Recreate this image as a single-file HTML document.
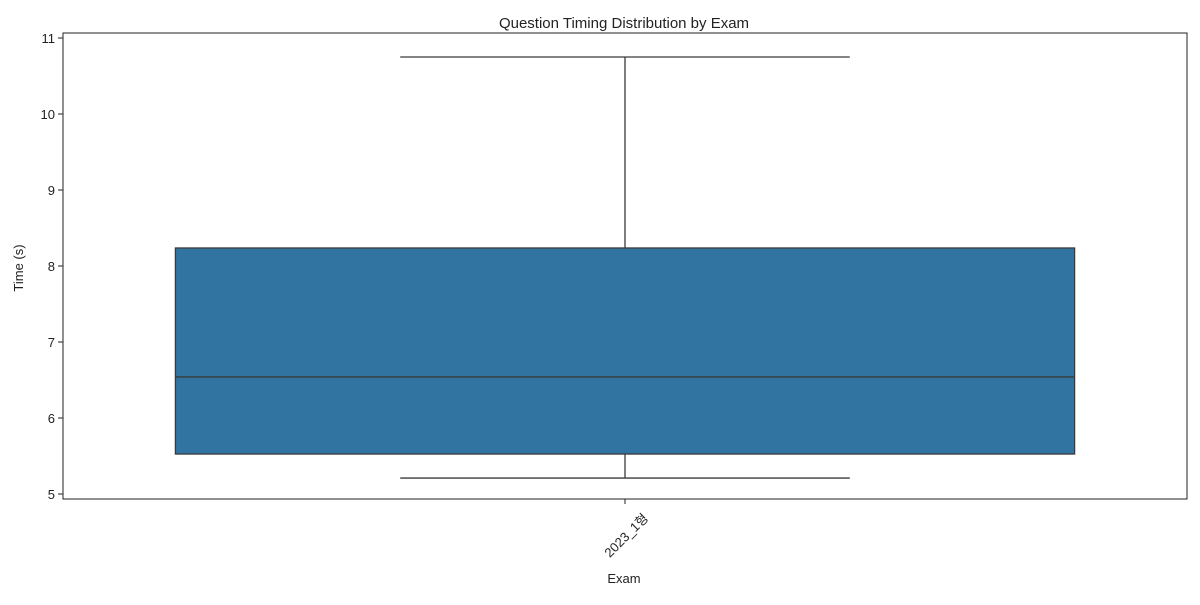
<!DOCTYPE html>
<html><head><meta charset="utf-8"><style>body{margin:0;background:#fff}svg{font-family:"Liberation Sans","Noto Sans CJK KR",sans-serif}</style></head>
<body>
<svg id="c" width="1200" height="600" viewBox="0 0 1200 600">
<text x="624" y="28" text-anchor="middle" font-size="15" fill="#222">Question Timing Distribution by Exam</text>
<g id="plot"></g>
<text x="624" y="583" text-anchor="middle" font-size="13" fill="#222">Exam</text>
<text transform="translate(23,268) rotate(-90)" text-anchor="middle" font-size="13" fill="#222">Time (s)</text>
</svg>
<script>
const categories=["2023_1형"];
const whiskerLow=[5.21];
const q1=[5.526];
const median=[6.54];
const q3=[8.237];
const whiskerHigh=[10.75];
const yTicks=[5,6,7,8,9,10,11];
const L=63,R=1187,T=33,B=499;
const y=v=>38+(11-v)*76;
const bw=(R-L)/categories.length;
const xc=i=>L+bw*(i+0.5);
const NS="http://www.w3.org/2000/svg";
const g=document.getElementById('plot');
function mk(t,a){const e=document.createElementNS(NS,t);for(const k in a)e.setAttribute(k,a[k]);g.appendChild(e);return e;}
yTicks.forEach(v=>{
 const l=mk('line',{x1:L-5,x2:L,y1:y(v),y2:y(v),stroke:'#222'});
 
 
 const t=mk('text',{x:L-8,y:y(v)+5,'text-anchor':'end','font-size':13,fill:'#222'});
 t.textContent=v;
 
 
});
categories.forEach((c,i)=>{
 const x=xc(i),hw=bw*0.4,cw=bw*0.2;
 const s='#3a3a3a';
 let e=mk('line',{x1:x,x2:x,y1:y(whiskerHigh[i]),y2:y(q3[i]),stroke:s,'stroke-width':1.3});
 
 e=mk('line',{x1:x,x2:x,y1:y(q1[i]),y2:y(whiskerLow[i]),stroke:s,'stroke-width':1.3});
 
 e=mk('line',{x1:x-cw,x2:x+cw,y1:y(whiskerHigh[i]),y2:y(whiskerHigh[i]),stroke:s,'stroke-width':1.3});
 
 e=mk('line',{x1:x-cw,x2:x+cw,y1:y(whiskerLow[i]),y2:y(whiskerLow[i]),stroke:s,'stroke-width':1.3});
 
 e=mk('rect',{x:x-hw,y:y(q3[i]),width:2*hw,height:y(q1[i])-y(q3[i]),fill:'#3274a1',stroke:s,'stroke-width':1.3});
 
 e=mk('line',{x1:x-hw,x2:x+hw,y1:y(median[i]),y2:y(median[i]),stroke:s,'stroke-width':1.3});
 
 e=mk('line',{x1:x,x2:x,y1:B,y2:B+5,stroke:'#222'});
 
 const t=mk('text',{transform:`translate(${x+24},${B+20}) rotate(-45)`,'text-anchor':'end','font-size':13,fill:'#222'});
 t.textContent=c;
 
});
const f=mk('rect',{x:L,y:T,width:R-L,height:B-T,fill:'none',stroke:'#222','stroke-width':1});


</script>
</body></html>
